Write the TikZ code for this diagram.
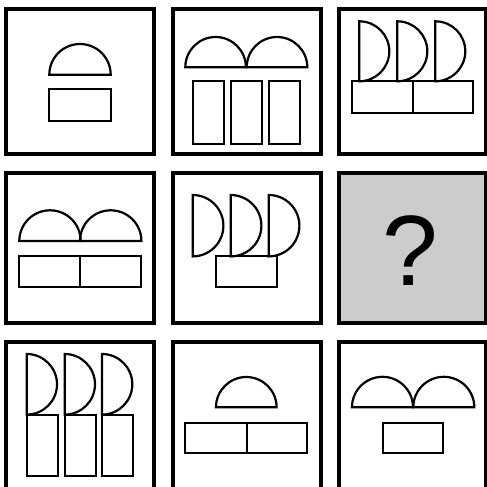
\documentclass[tikz,border=0pt]{standalone}
\usepackage{fontspec}
\setsansfont{Liberation Sans}
\usetikzlibrary{positioning}
\definecolor{cellgray}{HTML}{CCCCCC}
\tikzset{
  frame/.style  ={draw=black, line width=4pt},
  blank/.style  ={frame, fill=cellgray},
  part/.style   ={draw=black, line width=2.2pt, line join=miter},
  qmark/.style  ={font=\sffamily\fontsize{100}{100}\selectfont, inner sep=0pt, anchor=base},
}

\begin{document}
\begin{tikzpicture}[x=1pt, y=-1pt]
  \useasboundingbox (0,0) rectangle (487,487);

  % Frames
  \draw[frame] (5.5,9.3)  rectangle (154,154);
  \draw[frame] (173,9.3)  rectangle (321,154);
  \draw[frame] (339,9.3)  rectangle (486,154);
  \draw[frame] (5.5,173)  rectangle (154,322.7);
  \draw[frame] (173,173)  rectangle (321,322.7);
  \draw[blank] (339,173)  rectangle (486,322.7);
  \draw[frame] (5.5,342)  rectangle (154,492);
  \draw[frame] (173,342)  rectangle (321,492);
  \draw[frame] (339,342)  rectangle (486,492);

  % Row 1
  \draw[part] (49.3,74.7) arc[start angle=180, end angle=360, radius=30.7] -- cycle;
  \draw[part] (49.3,89.3) rectangle (110.7,120.7);

  \foreach \x in {185.3,246.7}
    \draw[part] (\x,67.3) arc[start angle=180, end angle=360, radius=30.3] -- cycle;
  \foreach \x in {192.7,230.7,268.7}
    \draw[part] (\x,81.3) rectangle ++(31.3,62.7);

  \foreach \x in {359.3,397.3,435.3}
    \draw[part] (\x,21.3) arc[start angle=270, end angle=450, radius=30] -- cycle;
  \draw[part] (352,81.3) rectangle (413.3,112.7);
  \draw[part] (413.3,81.3) rectangle (473.3,112.7);

  % Row 2
  \foreach \x in {19.3,80}
    \draw[part] (\x,241) arc[start angle=180, end angle=360, radius=30.7] -- cycle;
  \draw[part] (19.3,255.7) rectangle (80,287);
  \draw[part] (80,255.7) rectangle (141.3,287);

  \foreach \x in {192.7,230.7,268.7}
    \draw[part] (\x,195) arc[start angle=270, end angle=450, radius=30.7] -- cycle;
  \draw[part] (216,256.3) rectangle (276.7,287);

  \node[qmark] (q) at (410,285) {?};

  % Row 3
  \foreach \x in {26.7,64.7,102}
    \draw[part] (\x,354) arc[start angle=270, end angle=450, radius=30.3] -- cycle;
  \foreach \x in {26.7,64.7,102}
    \draw[part] (\x,414.7) rectangle ++(31.3,61.3);

  \draw[part] (216,407.3) arc[start angle=180, end angle=360, radius=30.3] -- cycle;
  \draw[part] (185.3,422.7) rectangle (246.7,453.3);
  \draw[part] (246.7,422.7) rectangle (307.3,453.3);

  \foreach \x in {352,413.3}
    \draw[part] (\x,407.3) arc[start angle=180, end angle=360, radius=30.5] -- cycle;
  \draw[part] (382.7,422.7) rectangle (443.3,453.3);
\end{tikzpicture}
\end{document}
